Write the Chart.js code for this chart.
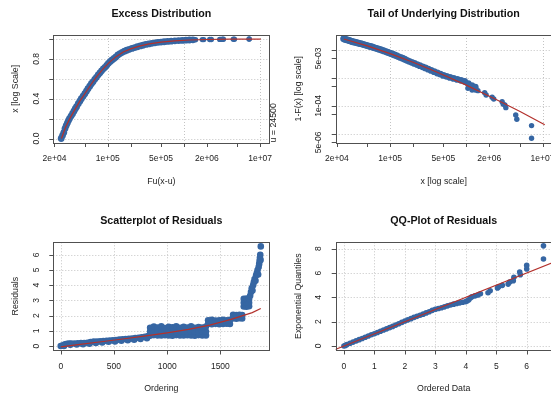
<!DOCTYPE html>
<html>
<head>
<meta charset="utf-8">
<script src="https://cdn.jsdelivr.net/npm/chart.js@4.4.1/dist/chart.umd.min.js"></script>
<style>
  html, body { margin: 0; padding: 0; background: #fff; overflow: hidden; }
  body { width: 551px; height: 396px; position: relative; }
  canvas { position: absolute; left: 0; top: 0; }
</style>
</head>
<body>
<canvas id="p1" width="560" height="396"></canvas>
<canvas id="p2" width="560" height="396"></canvas>
<canvas id="p3" width="560" height="396"></canvas>
<canvas id="p4" width="560" height="396"></canvas>
<script>
// ---- data (GPD fit diagnostics, threshold u = 24500) ----

// sorted exceedances (dense part), shared by the two upper panels
var lossX = [24500, 25500, 26500, 27500, 28500, 29500, 30500, 31500, 33000, 34500,
  36000, 37500, 39000, 41000, 43000, 45000, 47500, 50000, 52500, 55000,
  58000, 61000, 64000, 67500, 71000, 75000, 79000, 83000, 87500, 92000,
  97000, 102000, 108000, 114000, 121000, 128000, 136000, 145000, 155000, 166000,
  178000, 192000, 208000, 226000, 245000, 267000, 290000, 316000, 345000, 378000,
  415000, 455000, 500000, 550000, 610000, 680000, 760000, 850000, 950000, 1060000,
  1180000, 1310000];
var excessCdf = [0.00, 0.03, 0.06, 0.10, 0.13, 0.155, 0.18, 0.20, 0.225, 0.25,
  0.275, 0.30, 0.32, 0.35, 0.375, 0.40, 0.425, 0.45, 0.475, 0.50,
  0.525, 0.55, 0.57, 0.595, 0.615, 0.64, 0.66, 0.68, 0.70, 0.715,
  0.735, 0.755, 0.775, 0.79, 0.805, 0.82, 0.84, 0.853, 0.866, 0.877,
  0.887, 0.896, 0.905, 0.914, 0.922, 0.93, 0.937, 0.945, 0.95, 0.956,
  0.961, 0.966, 0.969, 0.972, 0.975, 0.978, 0.981, 0.984, 0.986, 0.988,
  0.99, 0.992];
var tailSurv = [0.02512, 0.02427, 0.02355, 0.02291, 0.02213, 0.02163, 0.02089, 0.02032, 0.01950, 0.01897,
  0.01841, 0.01786, 0.01738, 0.01679, 0.01622, 0.01567, 0.01503, 0.01445, 0.01380, 0.01334,
  0.01279, 0.01225, 0.01175, 0.01122, 0.01072, 0.01023, 0.00971, 0.00929, 0.00881, 0.00832,
  0.00794, 0.00750, 0.00708, 0.00668, 0.00624, 0.00582, 0.00543, 0.00507, 0.00468, 0.00427,
  0.00394, 0.00363, 0.00331, 0.00302, 0.00275, 0.00251, 0.00229, 0.00207, 0.00186, 0.00168,
  0.00151, 0.00138, 0.00124, 0.00115, 0.00105, 0.000966, 0.000891, 0.000822, 0.000759, 0.000631,
  0.000537, 0.000468];

// the largest, isolated observations
var extremeX = [1.05e6, 1.19e6, 1.31e6, 1.42e6, 1.74e6, 1.82e6, 2.18e6, 2.29e6, 2.95e6, 3.04e6,
  3.2e6, 3.3e6, 4.45e6, 4.6e6, 7.18e6, 7.18e6];
var extremeCdf = [0.990, 0.991, 0.992, 0.993, 0.994, 0.994, 0.995, 0.995, 0.996, 0.996,
  0.997, 0.997, 0.998, 0.998, 0.999, 1.0];
var extremeSurv = [0.000429, 0.000372, 0.000372, 0.000353, 0.000299, 0.000247, 0.000204, 0.000178, 0.000143, 0.000118,
  0.000109, 0.0000871, 0.0000478, 0.0000334, 0.0000199, 0.00000701];

// fitted curves
var cdfFitX = [24700, 28000, 32000, 37000, 43000, 50000, 60000, 72000, 87000, 105000,
  130000, 160000, 200000, 260000, 350000, 500000, 750000, 1.2e6, 2e6, 4e6, 1.02e7];
var cdfFitY = [0.0, 0.115, 0.205, 0.29, 0.375, 0.45, 0.54, 0.625, 0.70, 0.765,
  0.825, 0.87, 0.90, 0.928, 0.951, 0.969, 0.981, 0.99, 0.995, 0.998, 0.9995];
var survFitX = [24700, 50000, 100000, 200000, 400000, 1e6, 2.5e6, 5e6, 1.07e7];
var survFitY = [0.02472, 0.01403, 0.00743, 0.00365, 0.00168, 0.000557, 0.000168, 0.0000649, 0.0000215];

// residuals against ordering
var resOrder = [0, 20, 40, 60, 80, 100, 130, 160, 190, 220, 250, 280, 310, 340, 370, 400, 430, 460, 490, 520,
  550, 580, 610, 640, 670, 700, 730, 760, 790, 820,
  30, 90, 150, 210, 270, 330, 390, 450, 510, 570, 630, 690, 750, 810,
  840, 875, 910, 945, 980, 1015, 1050, 1085, 1120, 1155, 1190, 1225, 1260, 1295, 1330, 1365,
  840, 875, 910, 945, 980, 1015, 1050, 1085, 1120, 1155, 1190, 1225, 1260, 1295, 1330, 1365,
  840, 875, 910, 945, 980, 1015, 1050, 1085, 1120, 1155, 1190, 1225, 1260, 1295, 1330, 1365,
  1385, 1420, 1455, 1490, 1525, 1560, 1590,
  1385, 1420, 1455, 1490, 1525, 1560, 1590,
  1620, 1650, 1680, 1705, 1620, 1650, 1680, 1705,
  1720, 1745, 1770, 1720, 1745, 1770, 1720, 1745, 1770,
  1780, 1788, 1795, 1802, 1808, 1815, 1822, 1830, 1836, 1843, 1850, 1855, 1860, 1865, 1869, 1872, 1875, 1878, 1880];
var resValue = [0.0, 0.05, 0.12, 0.15, 0.16, 0.17, 0.17, 0.18, 0.19, 0.2, 0.22, 0.27, 0.29, 0.3, 0.31, 0.33, 0.34, 0.36, 0.38, 0.4,
  0.42, 0.44, 0.46, 0.48, 0.5, 0.52, 0.55, 0.58, 0.61, 0.65,
  0.0, 0.08, 0.1, 0.12, 0.15, 0.2, 0.24, 0.28, 0.3, 0.35, 0.38, 0.42, 0.47, 0.52,
  0.68, 0.72, 0.7, 0.69, 0.71, 0.7, 0.68, 0.72, 0.7, 0.69, 0.71, 0.7, 0.68, 0.72, 0.7, 0.7,
  0.95, 0.93, 0.96, 0.95, 0.94, 0.97, 0.95, 0.93, 0.96, 0.95, 0.94, 0.96, 0.95, 0.93, 0.96, 0.95,
  1.2, 1.28, 1.22, 1.3, 1.18, 1.26, 1.24, 1.3, 1.2, 1.27, 1.22, 1.29, 1.2, 1.25, 1.22, 1.28,
  1.45, 1.43, 1.46, 1.44, 1.45, 1.47, 1.45,
  1.7, 1.72, 1.68, 1.7, 1.73, 1.7, 1.72,
  1.82, 1.8, 1.83, 1.81, 2.05, 2.03, 2.06, 2.04,
  2.6, 2.58, 2.62, 2.85, 2.87, 2.84, 3.1, 3.12, 3.1,
  3.3, 3.55, 3.8, 3.65, 4.0, 4.2, 4.4, 4.3, 4.65, 4.8, 5.0, 4.7, 5.2, 5.4, 5.6, 5.8, 6.0, 5.65, 6.55];
var resSmoothX = [0, 200, 400, 600, 800, 1000, 1200, 1400, 1600, 1800, 1880];
var resSmoothY = [-0.05, 0.12, 0.3, 0.48, 0.67, 0.87, 1.1, 1.38, 1.75, 2.2, 2.47];

// QQ plot of residuals against exponential quantiles
var qqData = [0, 0.05, 0.1, 0.2, 0.3, 0.4, 0.5, 0.6, 0.7, 0.8, 0.9,
  1.0, 1.1, 1.2, 1.3, 1.4, 1.5, 1.6, 1.7, 1.8, 1.9,
  2.0, 2.1, 2.2, 2.3, 2.4, 2.5, 2.6, 2.7, 2.8, 2.9,
  3.0, 3.1, 3.2, 3.3, 3.4, 3.5, 3.6, 3.7, 3.8, 3.9,
  4.0, 4.05, 4.1, 4.15, 4.2, 4.3,
  4.4, 4.48, 4.73, 4.8, 5.04, 5.08, 5.2, 5.39, 5.44, 5.56, 5.58, 5.77, 5.79, 6.0, 6.0, 6.55, 6.55];
var qqExp = [0.0, 0.05, 0.12, 0.22, 0.32, 0.42, 0.52, 0.62, 0.72, 0.82, 0.92,
  1.01, 1.11, 1.21, 1.31, 1.41, 1.51, 1.61, 1.72, 1.83, 1.94,
  2.05, 2.15, 2.25, 2.35, 2.44, 2.53, 2.62, 2.72, 2.82, 2.93,
  3.02, 3.08, 3.15, 3.22, 3.3, 3.37, 3.44, 3.5, 3.55, 3.6,
  3.65, 3.72, 3.8, 3.95, 4.05, 4.12,
  4.2, 4.3, 4.38, 4.55, 4.77, 4.87, 4.99, 5.09, 5.26, 5.37, 5.65, 6.08, 5.86, 6.33, 6.63, 7.15, 8.24];
var qqLineX = [-1, 9];
var qqLineY = [-1, 9];

// ticks
var logXTicks = [2e4, 5e4, 1e5, 2e5, 5e5, 1e6, 2e6, 5e6, 1e7];
var logXLabels = ['2e+04', '', '1e+05', '', '5e+05', '', '2e+06', '', '1e+07'];
var cdfTicks = [0, 0.2, 0.4, 0.6, 0.8, 1.0];
var cdfLabels = ['0.0', '', '0.4', '', '0.8', ''];
var survTicks = [1e-2, 5e-3, 1e-3, 5e-4, 1e-4, 5e-5, 1e-5, 5e-6];
var survLabels = ['', '5e-03', '', '', '1e-04', '', '', '5e-06'];
var orderTicks = [0, 500, 1000, 1500];
var resTicks = [0, 1, 2, 3, 4, 5, 6];
var qqXTicks = [0, 1, 2, 3, 4, 5, 6];
var qqYTicks = [0, 2, 4, 6, 8];

// ---- drawing ----
var FONT = '"Liberation Sans", Arial, Helvetica, sans-serif';
var BLUE = 'rgb(54,102,163)';
var RED = '#b3312c';
var W = 560, H = 396;

function pairs(xs, ys) {
  return xs.map(function (x, i) { return { x: x, y: ys[i] }; });
}

var panelSpec = {};

var rAxes = {
  id: 'rAxes',
  beforeDatasetsDraw: function (chart) {
    var s = panelSpec[chart.canvas.id];
    var ctx = chart.ctx, a = chart.chartArea, xs = chart.scales.x, ys = chart.scales.y;
    ctx.save();
    ctx.strokeStyle = '#c4c4c4';
    ctx.lineWidth = 1;
    ctx.setLineDash([1, 2]);
    ctx.beginPath();
    s.xGrid.forEach(function (v) {
      var px = Math.round(xs.getPixelForValue(v)) + 0.5;
      ctx.moveTo(px, a.top); ctx.lineTo(px, a.bottom);
    });
    s.yGrid.forEach(function (v) {
      var py = Math.round(ys.getPixelForValue(v)) + 0.5;
      ctx.moveTo(a.left, py); ctx.lineTo(a.right, py);
    });
    ctx.stroke();
    ctx.restore();
  },
  afterDatasetsDraw: function (chart) {
    var s = panelSpec[chart.canvas.id];
    var ctx = chart.ctx, a = chart.chartArea, xs = chart.scales.x, ys = chart.scales.y;
    ctx.save();
    ctx.strokeStyle = '#505050';
    ctx.lineWidth = 1;
    ctx.strokeRect(Math.round(a.left) + 0.5, Math.round(a.top) + 0.5,
      Math.round(a.right - a.left), Math.round(a.bottom - a.top));
    ctx.beginPath();
    s.xTicks.forEach(function (v) {
      var px = Math.round(xs.getPixelForValue(v)) + 0.5;
      ctx.moveTo(px, Math.round(a.bottom) + 0.5); ctx.lineTo(px, a.bottom + 4.5);
    });
    s.yTicks.forEach(function (v) {
      var py = Math.round(ys.getPixelForValue(v)) + 0.5;
      ctx.moveTo(Math.round(a.left) + 0.5, py); ctx.lineTo(a.left - 4, py);
    });
    ctx.stroke();

    ctx.fillStyle = '#222';
    ctx.textAlign = 'center';
    ctx.textBaseline = 'middle';
    ctx.font = '8.5px ' + FONT;
    s.xTicks.forEach(function (v, i) {
      if (s.xLabels[i]) ctx.fillText(s.xLabels[i], xs.getPixelForValue(v), a.bottom + 16.5);
    });
    s.yTicks.forEach(function (v, i) {
      if (!s.yLabels[i]) return;
      ctx.save();
      ctx.translate(a.left - 16.6, ys.getPixelForValue(v));
      ctx.rotate(-Math.PI / 2);
      ctx.fillText(s.yLabels[i], 0, 0);
      ctx.restore();
    });
    var cx = (a.left + a.right) / 2, cy = (a.top + a.bottom) / 2;
    ctx.font = '8.8px ' + FONT;
    ctx.fillText(s.xTitle, cx, a.bottom + 39);
    ctx.save();
    ctx.translate(a.left - 37.6, cy);
    ctx.rotate(-Math.PI / 2);
    ctx.fillText(s.yTitle, 0, 0);
    ctx.restore();
    if (s.sideNote) {
      ctx.save();
      ctx.translate(a.right + 4.7, a.bottom);
      ctx.rotate(-Math.PI / 2);
      ctx.textAlign = 'left';
      ctx.fillText(s.sideNote, 0, 0);
      ctx.restore();
    }
    ctx.fillStyle = '#111';
    ctx.font = 'bold 10.7px ' + FONT;
    ctx.fillText(s.title, cx, a.top - 21);
    ctx.restore();
  }
};

function pointSet(data, r) {
  return {
    type: 'scatter', data: data, showLine: false,
    pointRadius: r, pointHoverRadius: r,
    backgroundColor: BLUE, pointBackgroundColor: BLUE,
    borderWidth: 0, pointBorderWidth: 0,
  };
}

function lineSet(data) {
  return {
    type: 'line', data: data, borderColor: RED, borderWidth: 1.2,
    pointRadius: 0, fill: false, tension: 0,
  };
}

function makePanel(id, box, xScale, yScale, datasets) {
  return new Chart(document.getElementById(id), {
    type: 'scatter',
    data: { datasets: datasets },
    options: {
      responsive: false, animation: false, events: [],
      layout: { padding: { left: box[0], top: box[1], right: W - box[2], bottom: H - box[3] } },
      plugins: { legend: { display: false }, tooltip: { enabled: false } },
      scales: {
        x: Object.assign({ display: false }, xScale),
        y: Object.assign({ display: false }, yScale),
      },
    },
    plugins: [rAxes],
  });
}

panelSpec.p1 = {
  title: 'Excess Distribution', xTitle: 'Fu(x-u)', yTitle: 'x [log Scale]', sideNote: 'u = 24500',
  xTicks: logXTicks, xLabels: logXLabels, yTicks: cdfTicks, yLabels: cdfLabels,
  xGrid: [1e5, 1e6, 1e7], yGrid: cdfTicks,
};
panelSpec.p2 = {
  title: 'Tail of Underlying Distribution', xTitle: 'x [log scale]', yTitle: '1-F(x) [log scale]',
  xTicks: logXTicks, xLabels: logXLabels, yTicks: survTicks, yLabels: survLabels,
  xGrid: [1e5, 1e6, 1e7], yGrid: [1e-2, 1e-3, 1e-4, 1e-5],
};
panelSpec.p3 = {
  title: 'Scatterplot of Residuals', xTitle: 'Ordering', yTitle: 'Residuals',
  xTicks: orderTicks, xLabels: orderTicks.map(String), yTicks: resTicks, yLabels: resTicks.map(String),
  xGrid: orderTicks, yGrid: resTicks,
};
panelSpec.p4 = {
  title: 'QQ-Plot of Residuals', xTitle: 'Ordered Data', yTitle: 'Exponential Quantiles',
  xTicks: qqXTicks, xLabels: qqXTicks.map(String), yTicks: qqYTicks, yLabels: qqYTicks.map(String),
  xGrid: qqXTicks, yGrid: qqYTicks,
};

makePanel('p1', [53.3, 35, 269.3, 142.5],
  { type: 'logarithmic', min: 1.93e4, max: 1.32e7 },
  { type: 'linear', min: -0.04, max: 1.04 },
  [lineSet(pairs(cdfFitX, cdfFitY)), pointSet(pairs(lossX, excessCdf), 3.4), pointSet(pairs(extremeX, extremeCdf), 2.7)]);

makePanel('p2', [335.7, 35, 551.7, 142.5],
  { type: 'logarithmic', min: 1.93e4, max: 1.32e7 },
  { type: 'logarithmic', min: 4.955e-6, max: 0.03436 },
  [lineSet(pairs(survFitX, survFitY)), pointSet(pairs(lossX, tailSurv), 3.4), pointSet(pairs(extremeX, extremeSurv), 2.7)]);

makePanel('p3', [53.3, 242.3, 269.3, 350],
  { type: 'linear', min: -70, max: 1960 },
  { type: 'linear', min: -0.26, max: 6.82 },
  [lineSet(pairs(resSmoothX, resSmoothY)), pointSet(pairs(resOrder, resValue), 3.3)]);

makePanel('p4', [335.7, 242.3, 551.7, 350],
  { type: 'linear', min: -0.27, max: 6.82 },
  { type: 'linear', min: -0.33, max: 8.53 },
  [lineSet(pairs(qqLineX, qqLineY)), pointSet(pairs(qqData, qqExp), 2.8)]);
</script>
</body>
</html>
